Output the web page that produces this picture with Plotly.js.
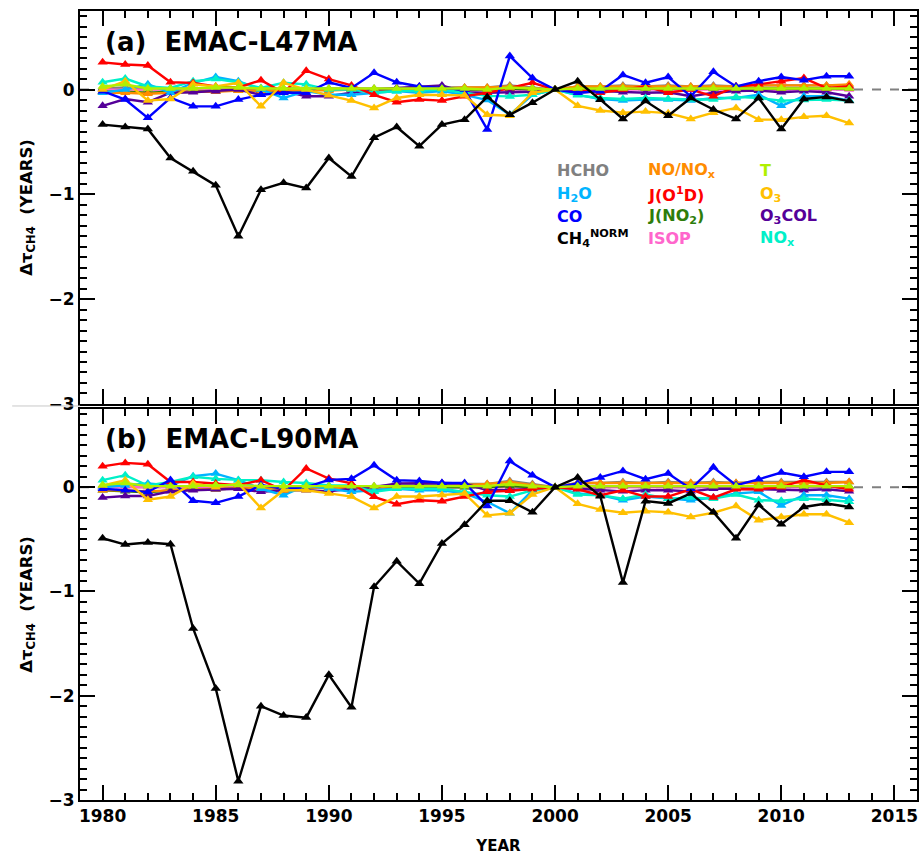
<!DOCTYPE html>
<html>
<head>
<meta charset="utf-8">
<script src="https://cdn.plot.ly/plotly-3.0.1.min.js"></script>
<style>html,body{margin:0;padding:0;background:#fff;}#chart{width:922px;height:859px;}</style>
</head>
<body>
<div id="chart"></div>
<script>
// ---------- DATA ----------
const years = [1980,1981,1982,1983,1984,1985,1986,1987,1988,1989,1990,1991,1992,1993,1994,1995,1996,1997,1998,1999,2000,2001,2002,2003,2004,2005,2006,2007,2008,2009,2010,2011,2012,2013];

const seriesNames = ["HCHO","H2O","CO","CH4NORM","NO/NOx","J(O1D)","J(NO2)","ISOP","T","O3","O3COL","NOx"];
const seriesColors = ["#808080","#00B4FF","#0000FF","#000000","#FF8C00","#FF0000","#2E7D0A","#FF66CC","#B0F000","#FFC000","#550099","#00F0C8"];
const legendLabels = ["HCHO","H<sub>2</sub>O","CO","CH<sub>4</sub><sup>NORM</sup>","NO/NO<sub>x</sub>","J(O<sup>1</sup>D)","J(NO<sub>2</sub>)","ISOP","T","O<sub>3</sub>","O<sub>3</sub>COL","NO<sub>x</sub>"];

// Panel (a) EMAC-L47MA
const a_HCHO  = [0.01,0.02,0.01,0.01,0.01,0.01,0.01,0.01,0.01,0.01,0.01,0.01,0.01,0.01,0.02,0.02,0.02,0.02,0.04,0.02,0,0.03,0.03,0.04,0.03,0.04,0.03,0.04,0.03,0.04,0.04,0.04,0.04,0.04];
const a_H2O   = [-0.03,0,0.05,-0.03,0.065,0.12,0.08,0,-0.08,-0.015,-0.05,-0.05,-0.03,-0.015,-0.03,-0.015,-0.05,-0.1,-0.24,-0.05,0,-0.05,-0.09,-0.105,-0.095,-0.095,-0.105,-0.08,-0.08,-0.05,-0.155,-0.064,-0.064,-0.105];
const a_CO    = [-0.015,-0.095,-0.27,-0.08,-0.16,-0.16,-0.095,-0.05,-0.03,-0.03,0.07,0.015,0.16,0.07,0.03,0.015,0,-0.38,0.32,0.11,0,-0.03,-0.015,0.14,0.065,0.12,-0.064,0.17,0.03,0.08,0.12,0.09,0.127,0.127];
const a_CH4   = [-0.334,-0.357,-0.376,-0.653,-0.78,-0.914,-1.40,-0.955,-0.89,-0.94,-0.653,-0.83,-0.46,-0.357,-0.54,-0.334,-0.287,-0.07,-0.24,-0.125,0,0.08,-0.096,-0.28,-0.11,-0.25,-0.08,-0.19,-0.28,-0.08,-0.375,-0.09,-0.07,-0.11];
const a_NONOx = [-0.03,-0.03,-0.04,-0.03,-0.02,-0.02,-0.01,-0.01,-0.01,0,-0.01,0,0,0.01,0.01,0.01,0.02,0.02,0.03,0.01,0,0.03,0.03,0.03,0.03,0.03,0.03,0.03,0.03,0.04,0.04,0.04,0.04,0.05];
const a_JO1D  = [0.26,0.24,0.23,0.07,0.064,0.03,0.02,0.09,-0.03,0.18,0.10,0.04,-0.05,-0.12,-0.095,-0.105,-0.064,-0.03,0.015,0.065,0,0,-0.03,0,0.03,-0.03,0,-0.064,0.03,0.05,0.08,0.11,0.015,0.03];
const a_JNO2  = [-0.02,-0.02,-0.03,-0.02,-0.02,-0.01,-0.01,-0.01,-0.01,-0.01,0,0,0,0,0,0,0,0,0.01,0,0,0.01,0.01,0.01,0.01,0.01,0.01,0.01,0.01,0.01,0.01,0.01,0.01,0.01];
const a_ISOP  = [0,0,0,0,0,0,0,0,0,0,0,0,0,0,0,0,0,0,0,0,0,0,0,0,0,0,0,0,0,0,0,0,0,0];
const a_T     = [0.03,0.05,0.01,0.01,0.01,0.02,0.02,0.01,0.01,0.01,0.01,0.01,0.01,0.01,0.01,0.01,0.01,0,0.02,0.01,0,0.01,0.01,0.01,0.01,0.01,0.01,0.01,0.01,0.01,0.01,0.01,0.01,0.01];
const a_O3    = [0,0.08,-0.105,-0.09,0.05,0.03,0.065,-0.16,0.065,0,-0.055,-0.105,-0.175,-0.08,-0.05,-0.05,-0.055,-0.24,-0.25,-0.03,0,-0.155,-0.2,-0.22,-0.21,-0.225,-0.28,-0.22,-0.175,-0.287,-0.287,-0.26,-0.25,-0.32];
const a_O3COL = [-0.155,-0.09,-0.12,-0.03,-0.025,-0.015,0,-0.05,-0.015,-0.064,-0.064,-0.03,0,0.015,0.03,0.04,-0.025,-0.03,-0.026,-0.02,0,-0.03,-0.015,-0.025,-0.03,-0.025,-0.064,-0.03,-0.015,-0.01,-0.025,-0.015,-0.025,-0.064];
const a_NOx   = [0.07,0.105,0.03,0.015,0.08,0.1,0.07,0.015,0.065,0.05,0,0,-0.03,-0.015,-0.01,0,-0.03,-0.06,-0.065,-0.05,0,-0.055,-0.08,-0.09,-0.08,-0.09,-0.095,-0.095,-0.07,-0.08,-0.105,-0.1,-0.095,-0.105];

// Panel (b) EMAC-L90MA
const b_HCHO  = [0.01,0.02,0.01,0.01,0.01,0.01,0.01,0.01,0.01,0.01,0.01,0.01,0.01,0.02,0.02,0.02,0.03,0.03,0.06,0.03,0,0.04,0.04,0.05,0.04,0.05,0.04,0.05,0.04,0.05,0.05,0.05,0.05,0.05];
const b_H2O   = [0,0.016,0.036,0.016,0.105,0.13,0.067,-0.015,-0.077,0.016,-0.015,-0.045,-0.03,-0.015,-0.03,-0.03,-0.06,-0.14,-0.25,-0.03,0,-0.06,-0.077,-0.125,-0.09,-0.11,-0.125,-0.1,-0.06,-0.045,-0.175,-0.077,-0.077,-0.11];
const b_CO    = [-0.015,-0.03,-0.045,0.07,-0.13,-0.15,-0.09,0.02,-0.015,0,0.07,0.08,0.21,0.067,0.06,0.04,0.04,-0.18,0.25,0.115,0,0.035,0.093,0.156,0.077,0.13,-0.016,0.19,0.02,0.075,0.14,0.1,0.147,0.147];
const b_CH4   = [-0.49,-0.55,-0.53,-0.547,-1.355,-1.93,-2.82,-2.10,-2.19,-2.21,-1.80,-2.11,-0.955,-0.71,-0.925,-0.54,-0.36,-0.13,-0.13,-0.24,0,0.093,-0.086,-0.915,-0.134,-0.156,-0.06,-0.24,-0.49,-0.17,-0.355,-0.19,-0.156,-0.19];
const b_NONOx = [-0.03,-0.03,-0.04,-0.03,-0.02,-0.02,-0.01,-0.01,-0.01,0,-0.01,0,0,0.01,0.01,0.01,0.02,0.03,0.05,0.02,0,0.04,0.04,0.04,0.04,0.04,0.04,0.04,0.04,0.04,0.04,0.04,0.04,0.05];
const b_JO1D  = [0.2,0.233,0.22,0.05,0.05,0.036,0.02,0.067,-0.03,0.18,0.083,0.036,-0.093,-0.163,-0.125,-0.135,-0.09,-0.045,-0.035,-0.02,0,-0.02,-0.077,-0.03,-0.09,-0.09,-0.02,-0.1,-0.02,-0.02,0,0.07,0.016,-0.02];
const b_JNO2  = [-0.03,-0.04,-0.05,-0.03,-0.02,-0.02,-0.01,-0.01,-0.01,-0.01,0,0,0,0,0,0,0,0,0.01,0,0,0.01,0.01,0.01,0.01,0.01,0.01,0.01,0.01,0.01,0.01,0.01,0.01,0.01];
const b_ISOP  = [0,0,0,0,0,0,0,0,0,0,0,0,0,0,0,0,0,0,0,0,0,0,0,0,0,0,0,0,0,0,0,0,0,0];
const b_T     = [0.02,0.04,0.01,0.01,0.01,0.02,0.02,0.01,0.01,0.01,0.01,0.01,0.01,0.01,0.01,0.01,0.01,0.01,0.03,0.01,0,0.01,0.01,0.01,0.01,0.01,0.01,0.01,0.01,0.01,0.01,0.01,0.01,0.01];
const b_O3    = [0.016,0.067,-0.12,-0.09,0.036,0,0.036,-0.2,-0.03,-0.03,-0.06,-0.09,-0.2,-0.09,-0.09,-0.075,-0.06,-0.27,-0.25,-0.07,0,-0.16,-0.215,-0.245,-0.23,-0.24,-0.285,-0.245,-0.18,-0.316,-0.285,-0.26,-0.26,-0.34];
const b_O3COL = [-0.1,-0.085,-0.085,-0.04,-0.03,-0.02,-0.015,-0.045,-0.03,-0.03,-0.04,-0.015,0,0.036,0.04,0.04,0.036,-0.03,-0.03,-0.015,0,-0.015,-0.03,-0.04,-0.03,-0.03,-0.04,-0.015,-0.015,-0.02,-0.03,-0.03,-0.02,-0.04];
const b_NOx   = [0.067,0.115,0.016,0.05,0.1,0.08,0.07,0.067,0.05,0.04,0.016,0.016,-0.045,-0.015,-0.015,-0.015,-0.045,-0.077,-0.09,-0.03,0,-0.07,-0.077,-0.11,-0.07,-0.11,-0.1,-0.11,-0.07,-0.125,-0.13,-0.11,-0.12,-0.14];

const panelA = [a_HCHO,a_H2O,a_CO,a_CH4,a_NONOx,a_JO1D,a_JNO2,a_ISOP,a_T,a_O3,a_O3COL,a_NOx];
const panelB = [b_HCHO,b_H2O,b_CO,b_CH4,b_NONOx,b_JO1D,b_JNO2,b_ISOP,b_T,b_O3,b_O3COL,b_NOx];
const panelTitles = ["(a)  EMAC-L47MA","(b)  EMAC-L90MA"];
const xTicks = [1980,1985,1990,1995,2000,2005,2010,2015];
const yTicks = [0,-1,-2,-3];

// ---------- TRACES ----------
const drawOrder = [0,7,6,4,10,1,11,5,2,9,8,3];
const traces = [];
[[panelA,'x','y'],[panelB,'x2','y2']].forEach(([set,xa,ya]) => {
  drawOrder.forEach(i => {
    traces.push({
      x: years, y: set[i], xaxis: xa, yaxis: ya, type: 'scatter', mode: 'lines+markers',
      name: seriesNames[i], showlegend: false,
      line: {color: seriesColors[i], width: 2.4},
      marker: {symbol: 'triangle-up', size: 9, color: seriesColors[i]}
    });
  });
});

// ---------- LAYOUT ----------
const FONT = "DejaVu Sans, Liberation Sans, sans-serif";
function xax(showLabels, anchor){
  return {
    range: [1979, 2016], anchor: anchor, showgrid: false, zeroline: false,
    showline: true, linecolor: '#000', linewidth: 2, mirror: 'ticks',
    ticks: 'inside', ticklen: 15, tickwidth: 2, tickcolor: '#000',
    tickvals: xTicks, showticklabels: showLabels,
    tickfont: {family: FONT, size: 17, color: '#000', weight: 'bold'},
    minor: {dtick: 1, ticks: 'inside', ticklen: 7, tickwidth: 2, tickcolor: '#000'}
  };
}
function yax(domain, anchor){
  return {
    domain: domain, anchor: anchor, range: [-3, 0.75], showgrid: false, zeroline: false,
    showline: true, linecolor: '#000', linewidth: 2, mirror: 'ticks',
    ticks: 'inside', ticklen: 15, tickwidth: 2, tickcolor: '#000',
    tickvals: yTicks, tickfont: {family: FONT, size: 17, color: '#000', weight: 'bold'},
    minor: {dtick: 0.1, tick0: 0, ticks: 'inside', ticklen: 7, tickwidth: 2, tickcolor: '#000'},
    title: {text: 'Δτ<sub>CH4</sub>  (YEARS)', standoff: 12,
            font: {family: FONT, size: 16.5, color: '#000', weight: 'bold'}}
  };
}

const annotations = [];
panelTitles.forEach((t, k) => {
  annotations.push({
    text: t, xref: k ? 'x2 domain' : 'x domain', yref: k ? 'y2 domain' : 'y domain',
    x: 0.027, y: 0.922, xanchor: 'left', yanchor: 'middle', showarrow: false,
    font: {family: FONT, size: 26, color: '#000', weight: 'bold'}
  });
});
// coloured legend text (3 columns x 4 rows) in panel (a)
const legCols = [0.567, 0.676, 0.810];
const legRows = [0.595, 0.534, 0.476, 0.422];
legendLabels.forEach((lab, i) => {
  annotations.push({
    text: lab, xref: 'x domain', yref: 'y domain',
    x: legCols[Math.floor(i/4)], y: legRows[i%4], xanchor: 'left', yanchor: 'middle',
    showarrow: false, font: {family: FONT, size: 16, color: seriesColors[i], weight: 'bold'}
  });
});

const shapes = [
  {type: 'line', xref: 'x domain', yref: 'y', x0: 0, x1: 1, y0: 0, y1: 0, layer: 'below',
   line: {color: '#808080', width: 2, dash: 'dash'}},
  {type: 'line', xref: 'x2 domain', yref: 'y2', x0: 0, x1: 1, y0: 0, y1: 0, layer: 'below',
   line: {color: '#808080', width: 2, dash: 'dash'}},
  {type: 'line', xref: 'paper', yref: 'paper', x0: -0.081, x1: 0, y0: 0.4994, y1: 0.4994,
   line: {color: '#c8c8c8', width: 1}}
];

const layout = {
  width: 922, height: 859,
  margin: {l: 80, r: 5, t: 11, b: 59},
  paper_bgcolor: '#fff', plot_bgcolor: '#fff',
  showlegend: false,
  xaxis: xax(false, 'y'),
  yaxis: yax([0.502, 1], 'x'),
  xaxis2: Object.assign(xax(true, 'y2'), {
    title: {text: 'YEAR', standoff: 15, font: {family: FONT, size: 15, color: '#000', weight: 'bold'}}
  }),
  yaxis2: yax([0, 0.4956], 'x2'),
  annotations: annotations,
  shapes: shapes
};

Plotly.newPlot('chart', traces, layout, {displayModeBar: false, staticPlot: true});
</script>
</body>
</html>
